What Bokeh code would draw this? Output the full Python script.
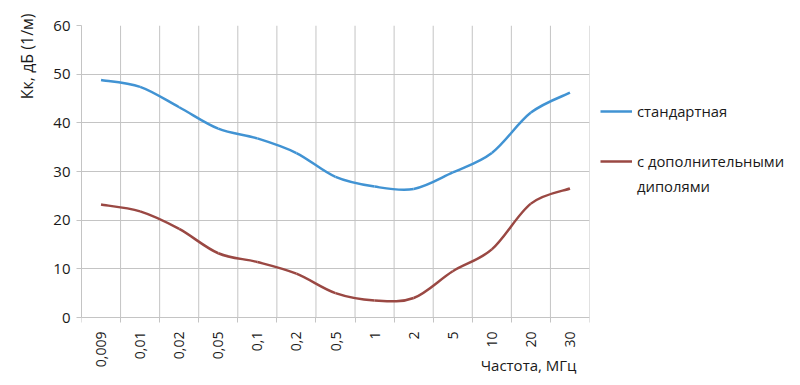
import numpy as np
from bokeh.plotting import figure
from bokeh.layouts import row
from bokeh.models import Range1d, FixedTicker, Legend, LegendItem, Title, Label
from bokeh.embed import file_html
from bokeh.resources import INLINE

categories = ["0,009", "0,01", "0,02", "0,05", "0,1", "0,2", "0,5", "1", "2", "5", "10", "20", "30"]
standard = [48.8, 47.4, 43.2, 38.8, 36.8, 33.8, 28.9, 26.9, 26.4, 29.8, 33.8, 42.1, 46.2]
dipoles = [23.2, 21.8, 18.2, 13.2, 11.4, 9.0, 5.0, 3.5, 4.0, 9.5, 14.0, 23.4, 26.5]
y_ticks = [0, 10, 20, 30, 40, 50, 60]
series_names = ["стандартная", "с дополнительными", "диполями"]
x_title = "Частота, МГц"
y_title = "Кк, дБ (1/м)"

BLUE = "#4193d3"
RED = "#9a4843"
GRID = "#c4c4c4"
FONT = "Open Sans"
TXT = "#1a1a1a"

n = len(categories)
xs = np.arange(n, dtype=float)
bounds = np.arange(n + 1) - 0.5


def smooth_segments(x, y):
    """Catmull-Rom control points for a smoothed line (as Excel 'smoothed line')."""
    x = np.asarray(x, float)
    y = np.asarray(y, float)
    xp = np.concatenate([[x[0]], x, [x[-1]]])
    yp = np.concatenate([[y[0]], y, [y[-1]]])
    x0, y0 = x[:-1], y[:-1]
    x1, y1 = x[1:], y[1:]
    cx0 = x0 + (xp[2:-1] - xp[:-3]) / 6.0
    cy0 = y0 + (yp[2:-1] - yp[:-3]) / 6.0
    cx1 = x1 - (xp[3:] - xp[1:-2]) / 6.0
    cy1 = y1 - (yp[3:] - yp[1:-2]) / 6.0
    return dict(x0=x0, y0=y0, x1=x1, y1=y1, cx0=cx0, cy0=cy0, cx1=cx1, cy1=cy1)


# frame extends under the axis so that the x title can sit beside the tick labels
ymin = -(68.0 / 292.0) * (y_ticks[-1] - y_ticks[0])
p = figure(width=600, height=385, x_range=Range1d(-0.5, n - 0.5), y_range=Range1d(ymin, y_ticks[-1]),
           output_backend="svg", toolbar_location=None,
           min_border_left=80, min_border_right=11, min_border_top=25, min_border_bottom=0)
p.outline_line_color = None
p.background_fill_color = "white"
p.border_fill_color = "white"

# x axis, fixed at y = 0
xa = p.xaxis[0]
xa.fixed_location = 0
xa.ticker = FixedTicker(ticks=list(range(n)), minor_ticks=list(bounds))
xa.major_label_overrides = {i: c for i, c in enumerate(categories)}
xa.major_label_orientation = np.pi / 2
xa.major_tick_line_color = None
xa.major_tick_out = 0
xa.major_tick_in = 0
xa.minor_tick_out = 5
xa.minor_tick_in = 0
xa.minor_tick_line_color = GRID
xa.axis_line_color = GRID
xa.major_label_standoff = 9
xa.major_label_text_font = FONT
xa.major_label_text_font_size = "14px"
xa.major_label_text_color = TXT

# y axis
ya = p.yaxis[0]
ya.ticker = FixedTicker(ticks=y_ticks)
ya.bounds = (y_ticks[0], y_ticks[-1])
ya.major_tick_out = 5
ya.major_tick_in = 0
ya.major_tick_line_color = GRID
ya.minor_tick_line_color = None
ya.axis_line_color = GRID
ya.major_label_standoff = 6
ya.major_label_text_font = FONT
ya.major_label_text_font_size = "15px"
ya.major_label_text_color = TXT

p.xgrid.visible = False
p.ygrid.grid_line_color = GRID

# vertical category separators (grid) between y = 0 and y = 60
p.segment(x0=bounds, y0=[y_ticks[0]] * (n + 1), x1=bounds, y1=[y_ticks[-1]] * (n + 1),
          line_color=GRID, line_width=1)

s1 = smooth_segments(xs, standard)
s2 = smooth_segments(xs, dipoles)
p.bezier(source=s1, x0="x0", y0="y0", x1="x1", y1="y1", cx0="cx0", cy0="cy0", cx1="cx1", cy1="cy1",
         line_color=BLUE, line_width=2.5)
p.bezier(source=s2, x0="x0", y0="y0", x1="x1", y1="y1", cx0="cx0", cy0="cy0", cx1="cx1", cy1="cy1",
         line_color=RED, line_width=2.5)

p.add_layout(Title(text=y_title, align="right", offset=-12, standoff=26,
                   text_font=FONT, text_font_size="16px", text_font_style="normal",
                   text_color=TXT), "left")
p.add_layout(Label(x=495, y=21, x_units="screen", y_units="screen", text=x_title,
                   text_align="right", text_baseline="middle",
                   text_font=FONT, text_font_size="15px", text_color=TXT))

# legend panel (separate canvas to the right of the plot)
q = figure(width=200, height=385, x_range=Range1d(0, 1), y_range=Range1d(0, 1),
           output_backend="svg", toolbar_location=None,
           x_axis_location=None, y_axis_location=None,
           min_border_left=0, min_border_right=0, min_border_top=0, min_border_bottom=0)
q.outline_line_color = None
q.xgrid.visible = False
q.ygrid.visible = False

nan = [float("nan")]
lb = q.line(nan, nan, line_color=BLUE, line_width=2.5)
lr = q.line(nan, nan, line_color=RED, line_width=2.5)
lblank = q.line(nan, nan, line_alpha=0)
lblank2 = q.line(nan, nan, line_alpha=0)

legend = Legend(items=[LegendItem(label=series_names[0], renderers=[lb]),
                       LegendItem(label=" ", renderers=[lblank]),
                       LegendItem(label=series_names[1], renderers=[lr]),
                       LegendItem(label=series_names[2], renderers=[lblank2])],
                location=(0, 187), glyph_width=32, glyph_height=24, label_height=24,
                label_standoff=5, spacing=1, padding=0, margin=0, border_line_color=None,
                background_fill_alpha=0, label_text_font=FONT, label_text_font_size="14.8px",
                label_text_color=TXT)
q.add_layout(legend, "center")

layout = row(p, q, spacing=0)
open("out.html", "w").write(file_html(layout, INLINE))
